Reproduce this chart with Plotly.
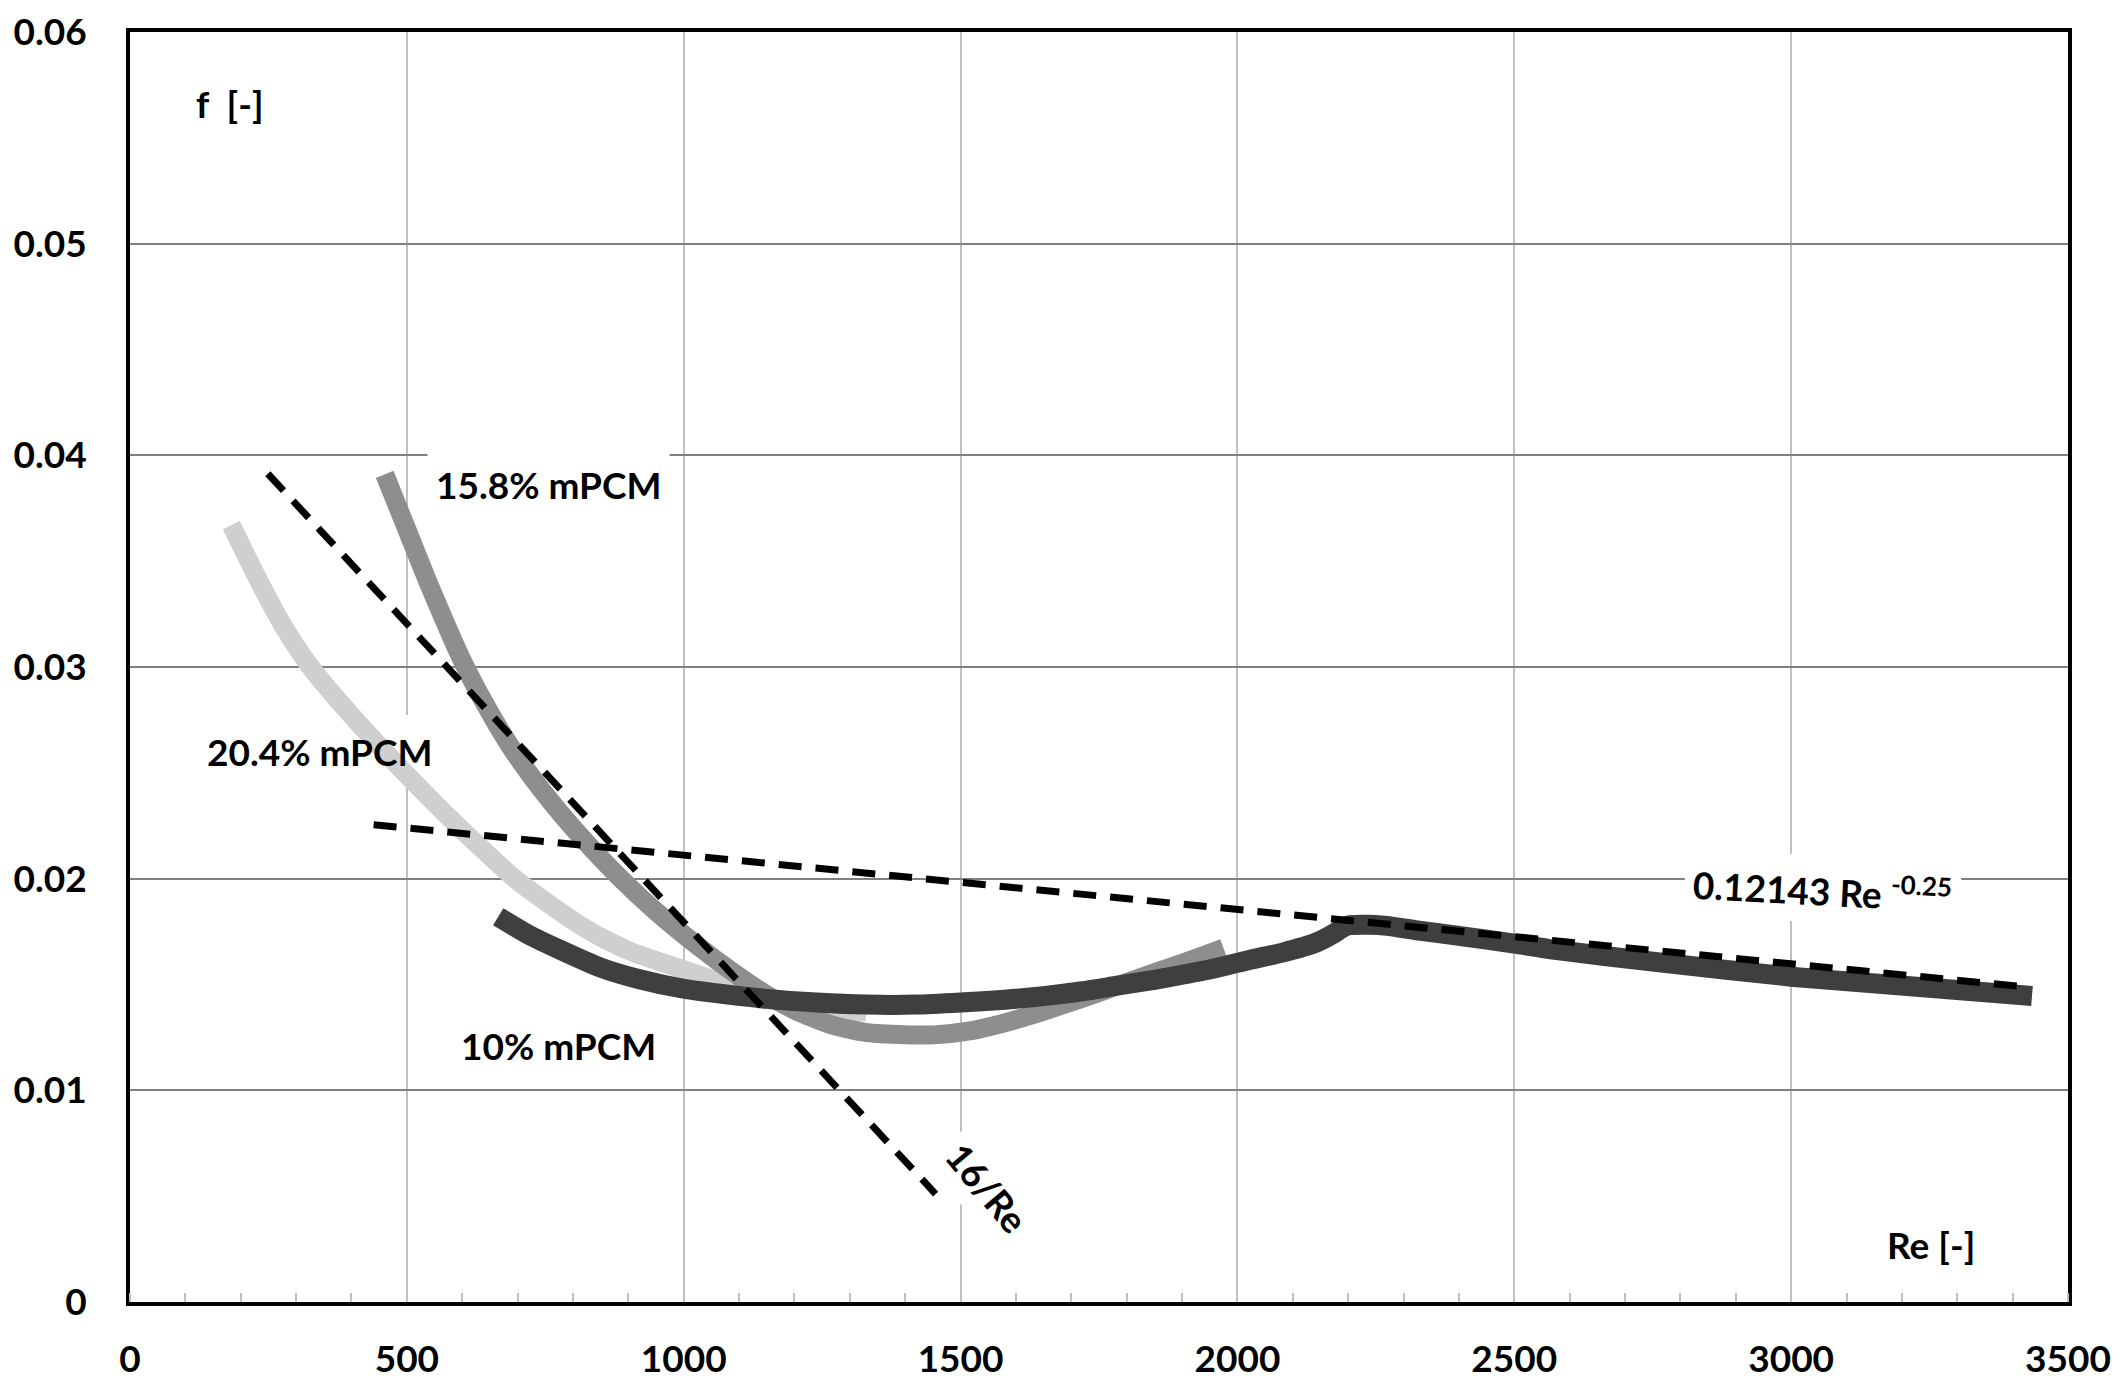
import plotly.graph_objects as go

# ---- data ----
re_10 = [665, 720, 780, 850, 920, 1000, 1080, 1150, 1240, 1330, 1420, 1500, 1580, 1650, 1720,
         1780, 1850, 1900, 1960, 2023, 2083, 2143, 2173, 2191, 2203, 2240, 2270, 2324, 2400,
         2500, 2570, 2750, 3000, 3170, 3435]
f_10 = [0.0182, 0.01735, 0.0166, 0.0158, 0.01525, 0.0148, 0.01452, 0.01432, 0.01415, 0.01405,
        0.01405, 0.01415, 0.01428, 0.01445, 0.01468, 0.01493, 0.01522, 0.01546, 0.01577,
        0.01617, 0.01652, 0.01699, 0.01739, 0.01770, 0.01780, 0.01782, 0.01777, 0.01756,
        0.0173, 0.01693, 0.01665, 0.01608, 0.01537, 0.01501, 0.01446]

re_158 = [460, 500, 540, 600, 640, 686, 730, 775, 820, 860, 905, 950, 1030, 1089, 1150, 1210,
          1270, 1331, 1400, 1452, 1520, 1573, 1630, 1693, 1750, 1812, 1903, 1975]
f_158 = [0.0391, 0.0365, 0.0339, 0.0303, 0.0283, 0.02628, 0.02465, 0.02317, 0.02182, 0.0207,
         0.01953, 0.01845, 0.01673, 0.01558, 0.01451, 0.01367, 0.01307, 0.01273, 0.01263,
         0.01262, 0.01282, 0.01314, 0.01357, 0.01411, 0.01462, 0.01521, 0.01603, 0.01671]

re_204 = [183, 230, 280, 326, 390, 458, 515, 572, 632, 695, 754, 810, 860, 910, 1000, 1090,
          1170, 1250, 1330]
f_204 = [0.0367, 0.03420, 0.03180, 0.0300, 0.0280, 0.02605, 0.02450, 0.02300, 0.02150, 0.02,
         0.01885, 0.01785, 0.0171, 0.0165, 0.0157, 0.0149, 0.0142, 0.0139, 0.0137]

re_lam = [249, 1455]          # "16/Re" dashed line
f_lam = [0.03913, 0.0051]

re_turb = [440, 2000, 3430]   # "0.12143 Re^-0.25" dashed line
f_turb = [0.02255, 0.01855, 0.01487]

x_tick_vals = [0, 500, 1000, 1500, 2000, 2500, 3000, 3500]
x_tick_text = ["0", "500", "1000", "1500", "2000", "2500", "3000", "3500"]
y_tick_vals = [0, 0.01, 0.02, 0.03, 0.04, 0.05, 0.06]
y_tick_text = ["0", "0.01", "0.02", "0.03", "0.04", "0.05", "0.06"]

FONT = "Lato"
FS = 37

fig = go.Figure()
fig.add_trace(go.Scatter(x=re_204, y=f_204, mode="lines",
                         line=dict(color="#cfcfcf", width=19, shape="spline", smoothing=0.6)))
fig.add_trace(go.Scatter(x=re_158, y=f_158, mode="lines",
                         line=dict(color="#8e8e8e", width=19, shape="spline", smoothing=0.6)))
fig.add_trace(go.Scatter(x=re_10, y=f_10, mode="lines",
                         line=dict(color="#3f3f3f", width=20, shape="spline", smoothing=0.6)))
fig.add_trace(go.Scatter(x=re_lam, y=f_lam, mode="lines",
                         line=dict(color="black", width=7, dash="23px,14px")))
fig.add_trace(go.Scatter(x=re_turb, y=f_turb, mode="lines",
                         line=dict(color="black", width=7, dash="23px,14px")))

# white box behind the 20.4% label (above grid, below curves)
fig.add_shape(type="rect", x0=117, x1=569, y0=0.02466, y1=0.02773, xref="x", yref="y",
              fillcolor="white", line=dict(width=0), layer="between")

def ann(text, x, y, bg=None, angle=0):
    d = dict(text=text, x=x, y=y, xref="x", yref="y", showarrow=False,
             font=dict(family=FONT, size=FS, color="black", weight="bold"),
             textangle=angle, borderpad=8)
    if bg:
        d["bgcolor"] = bg
    fig.add_annotation(**d)

ann("f  [-]", 181, 0.0566)
ann("15.8% mPCM", 755, 0.0386, bg="white")
ann("20.4% mPCM", 343, 0.0260)
ann("10% mPCM", 773, 0.0121)
ann("16/Re", 1548, 0.0054, bg="white", angle=50)
ann("0.12143 Re <sup>-0.25</sup>", 3056, 0.0195, bg="white", angle=3)
ann("Re [-]", 3253, 0.0027)

# the page body adds an 8px offset; margins compensate so the plot area lands
# where the reference has it in the 2120x1387 window
fig.update_layout(
    width=2120, height=1387,
    margin=dict(l=122, r=60, t=24, b=93),
    paper_bgcolor="white", plot_bgcolor="white",
    showlegend=False,
    font=dict(family=FONT, size=FS, color="black"),
    xaxis=dict(range=[0, 3500], tickmode="array", tickvals=x_tick_vals, ticktext=x_tick_text,
               showgrid=True, gridcolor="#c0c0c0", gridwidth=2, zeroline=False,
               showline=True, linecolor="black", linewidth=4, mirror=True, ticks="",
               tickfont=dict(family=FONT, size=FS, color="black", weight="bold"),
               ticklabelstandoff=22, automargin=False, ticklabeloverflow="allow",
               minor=dict(tickmode="linear", tick0=0, dtick=100, ticks="inside", ticklen=9,
                          tickcolor="#c0c0c0", tickwidth=2, showgrid=False)),
    yaxis=dict(range=[0, 0.06], tickmode="array", tickvals=y_tick_vals, ticktext=y_tick_text,
               showgrid=True, gridcolor="#808080", gridwidth=2, zeroline=False,
               showline=True, linecolor="black", linewidth=4, mirror=True, ticks="",
               tickfont=dict(family=FONT, size=FS, color="black", weight="bold"),
               ticklabelstandoff=32, automargin=False, ticklabeloverflow="allow"),
)

fig.write_html("out.html")
